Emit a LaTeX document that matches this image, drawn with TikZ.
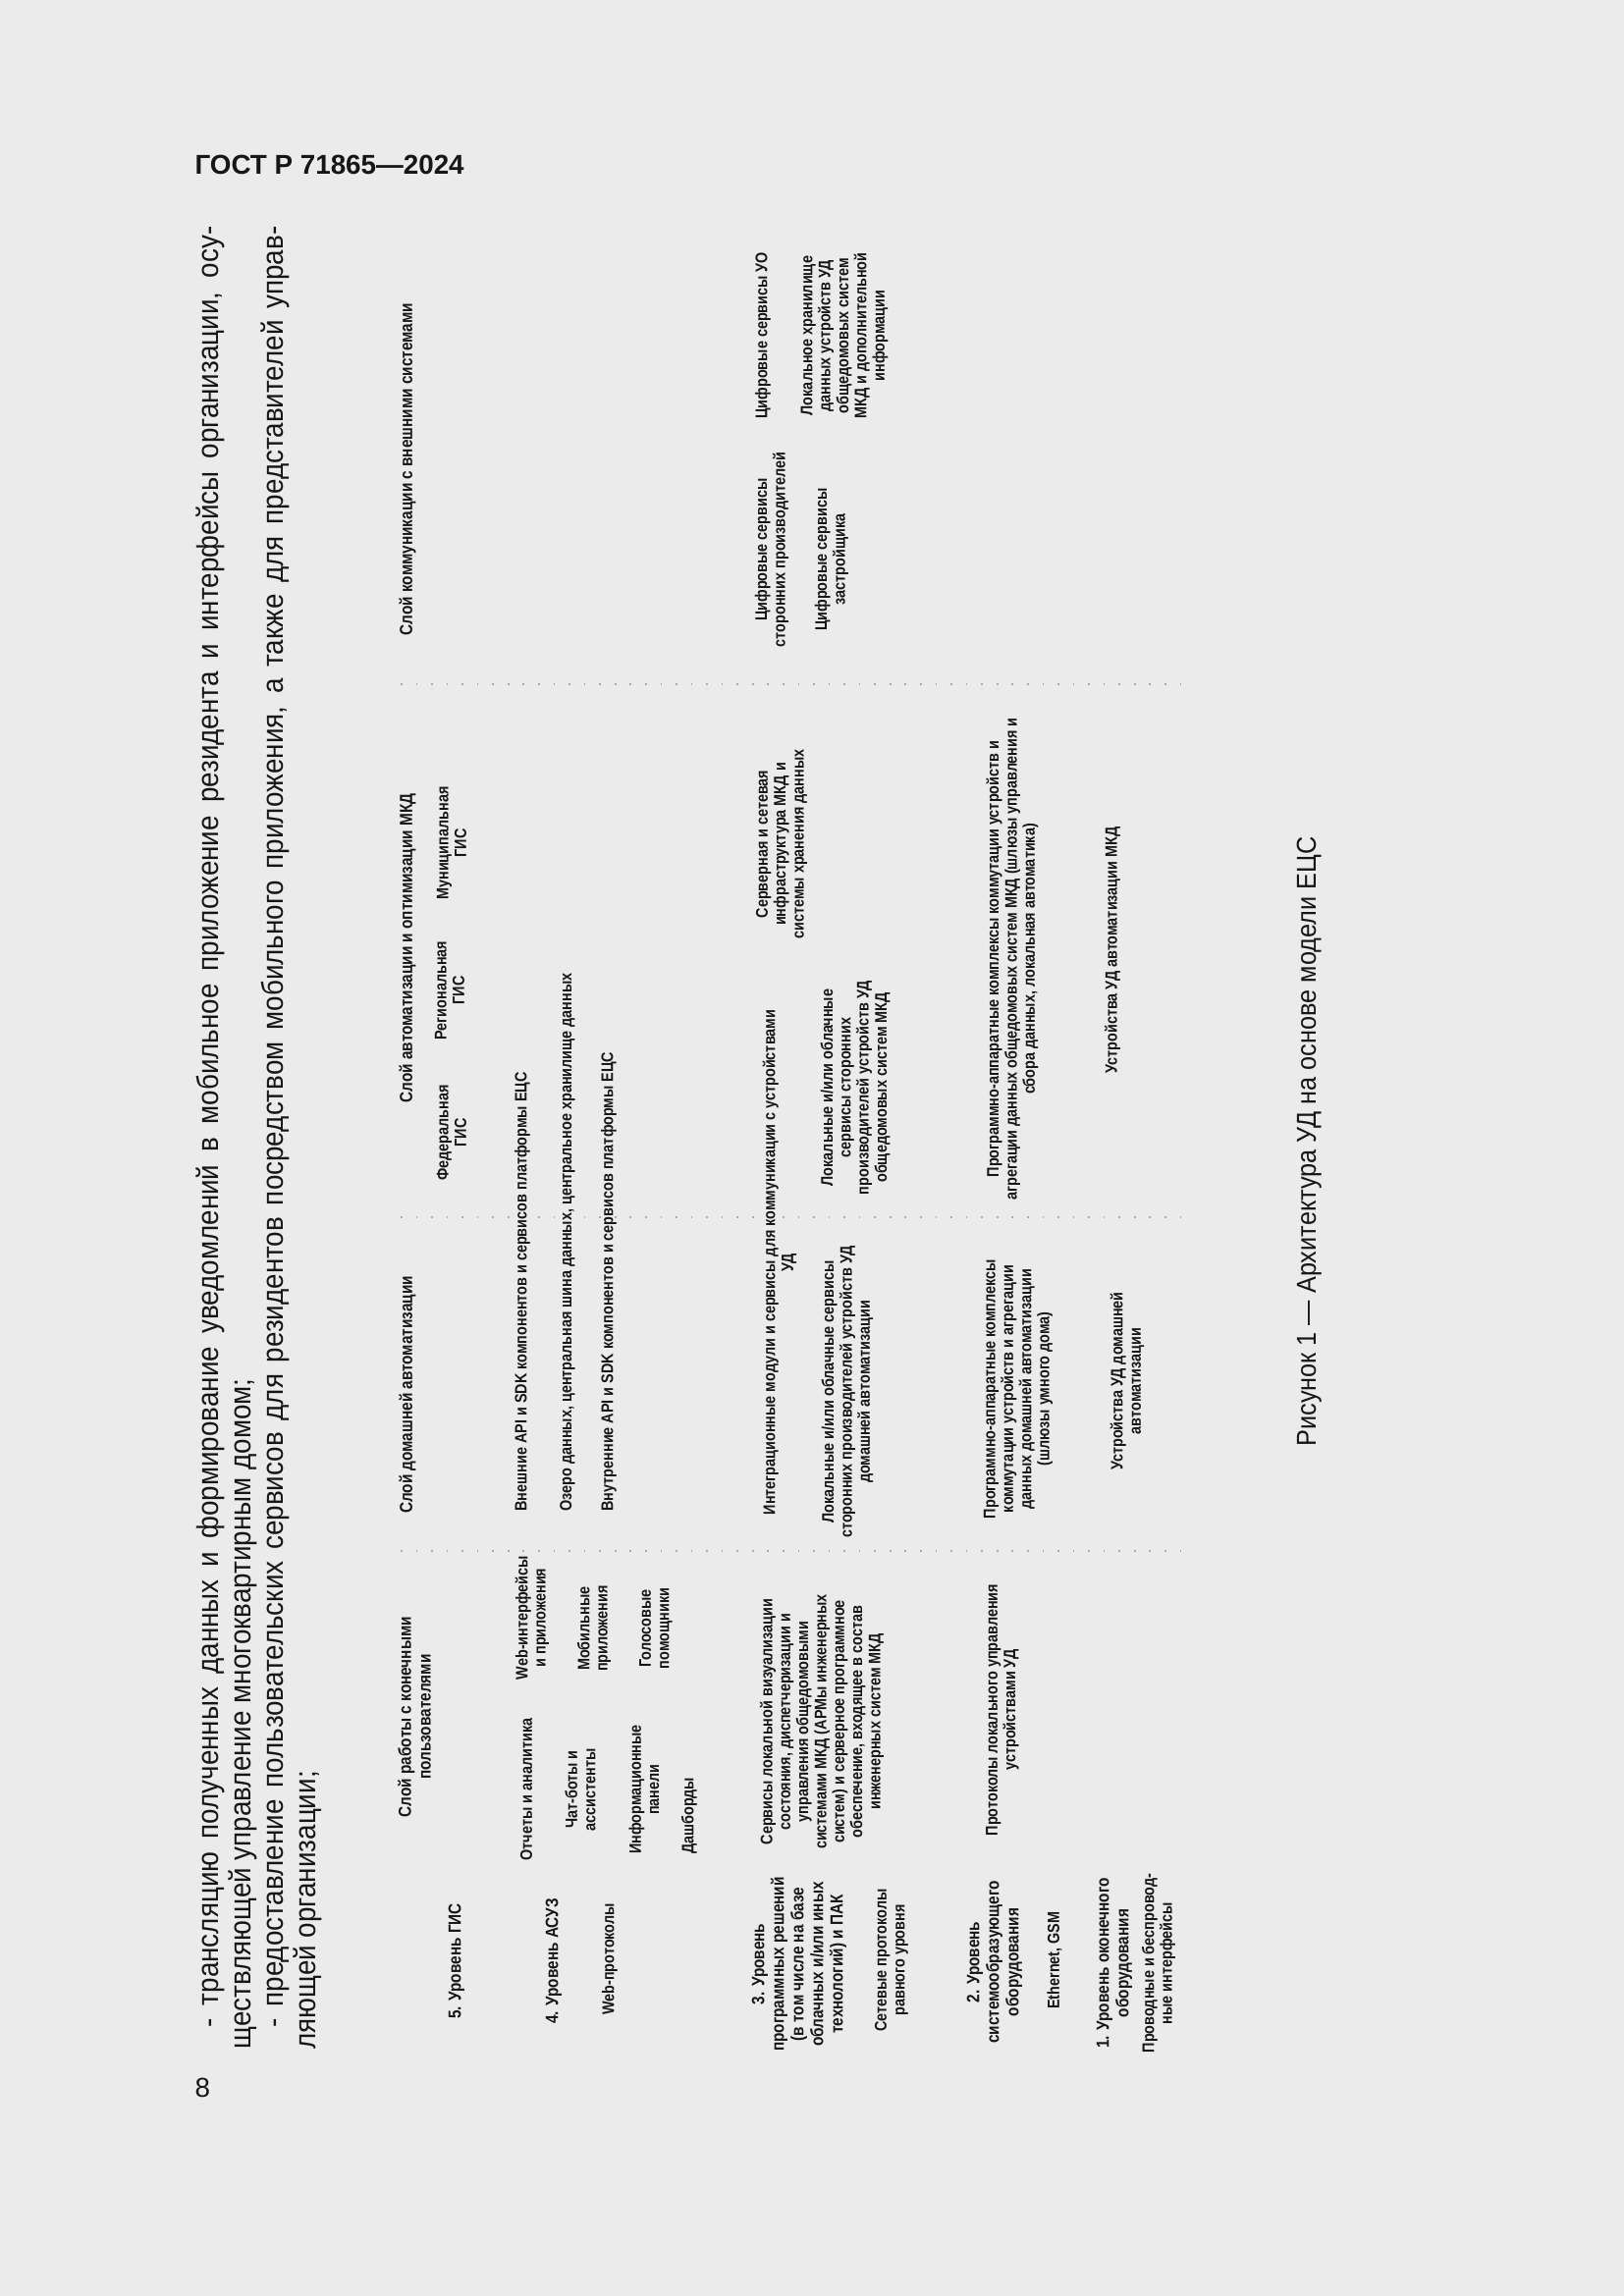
\documentclass[tikz,border=0pt]{standalone}
\usepackage{fontspec}
\setmainfont{Liberation Sans}
\newfontfamily\bodyfont[FakeStretch=0.91]{Liberation Sans}
\newfontfamily\diagfont[FakeStretch=0.85]{Liberation Sans}
\definecolor{pagebg}{RGB}{235,235,235}
\definecolor{ink}{RGB}{22,22,22}
\definecolor{dotgray}{RGB}{170,170,170}
\tikzset{
  lvl/.style={rotate=90, align=center, inner sep=0pt, text=ink,
    font=\diagfont\bfseries\fontsize{6.5}{7.2}\selectfont},
  itm/.style={rotate=90, align=center, inner sep=0pt, text=ink,
    font=\diagfont\bfseries\fontsize{6.1}{6.6}\selectfont},
  bodyline/.style={rotate=90, anchor=base west, inner sep=0pt, text=ink,
    font=\bodyfont\fontsize{11}{13}\selectfont},
  sepline/.style={draw=dotgray, line width=0.6pt, dash pattern=on 0.6pt off 5pt},
}
\begin{document}
\begin{tikzpicture}[x=0.3599pt,y=-0.3599pt]
\fill[pagebg] (0,0) rectangle (1654,2339);
\useasboundingbox (0,0) rectangle (1654,2339);

% header and page number
\node[anchor=base west, inner sep=0pt, text=ink, font=\bfseries\fontsize{10}{12}\selectfont] (hdr) at (198,177) {ГОСТ Р 71865—2024};
\node[anchor=base west, inner sep=0pt, text=ink, font=\fontsize{10}{12}\selectfont] (pg) at (198,2136) {8};

% body text (rotated)
\node[bodyline] (b1) at (222,2066) {\makebox[660.4pt][s]{- трансляцию полученных данных и формирование уведомлений в мобильное приложение резидента и интерфейсы организации, осу-}};
\node[bodyline] (b2) at (255,2088) {ществляющей управление многоквартирным домом;};
\node[bodyline] (b3) at (288,2066) {\makebox[660.4pt][s]{- предоставление пользовательских сервисов для резидентов посредством мобильного приложения, а также для представителей управ-}};
\node[bodyline] (b4) at (321,2088) {ляющей организации;};

% separators
\coordinate (s1a) at (408,697);  \coordinate (s1b) at (1203,697);
\coordinate (s2a) at (408,1240); \coordinate (s2b) at (1203,1240);
\coordinate (s3a) at (408,1580); \coordinate (s3b) at (1203,1580);
\draw[sepline] (s1a) -- (s1b);
\draw[sepline] (s2a) -- (s2b);
\draw[sepline] (s3a) -- (s3b);

% layer titles
\node[lvl] (t1) at (415,478) {Слой коммуникации с внешними системами};
\node[lvl] (t2) at (415,966) {Слой автоматизации и оптимизации МКД};
\node[lvl] (t3) at (415,1421) {Слой домашней автоматизации};
\node[lvl] (t4) at (422,1749) {Слой работы с конечными\\пользователями};

% external systems
\node[itm] (e1) at (777,342) {Цифровые сервисы УО};
\node[itm] (e2) at (786,560) {Цифровые сервисы\\сторонних производителей};
\node[itm] (e3) at (860,342) {Локальное хранилище\\данных устройств УД\\общедомовых систем\\МКД и дополнительной\\информации};
\node[itm] (e4) at (847,570) {Цифровые сервисы\\застройщика};

% MKD automation
\node[itm] (m1) at (460,1154) {Федеральная\\ГИС};
\node[itm] (m2) at (458,1009) {Региональная\\ГИС};
\node[itm] (m3) at (460,859) {Муниципальная\\ГИС};
\node[itm] (m4) at (796,860) {Серверная и сетевая\\инфраструктура МКД и\\системы хранения данных};
\node[itm] (m5) at (871,1108) {Локальные и/или облачные\\сервисы сторонних\\производителей устройств УД\\общедомовых систем МКД};
\node[itm] (m6) at (1031,977) {Программно-аппаратные комплексы коммутации устройств и\\агрегации данных общедомовых систем МКД (шлюзы управления и\\сбора данных, локальная автоматика)};
\node[itm] (m7) at (1133,968) {Устройства УД автоматизации МКД};
\node[itm] (int) at (794,1286) {Интеграционные модули и сервисы для коммуникации с устройствами\\УД};

% home automation
\node[itm, anchor=west] (h1) at (532,1540) {Внешние API и SDK компонентов и сервисов платформы ЕЦС};
\node[itm, anchor=west] (h2) at (578,1540) {Озеро данных, центральная шина данных, центральное хранилище данных};
\node[itm, anchor=west] (h3) at (620,1540) {Внутренние API и SDK компонентов и сервисов платформы ЕЦС};
\node[itm] (h4) at (863,1418) {Локальные и/или облачные сервисы\\сторонних производителей устройств УД\\домашней автоматизации};
\node[itm] (h5) at (1037,1415) {Программно-аппаратные комплексы\\коммутации устройств и агрегации\\данных домашней автоматизации\\(шлюзы умного дома)};
\node[itm] (h6) at (1148,1407) {Устройства УД домашней\\автоматизации};

% end users
\node[itm] (u1) at (536,1823) {Отчеты и аналитика};
\node[itm] (u2) at (591,1823) {Чат-боты и\\ассистенты};
\node[itm] (u3) at (656,1823) {Информационные\\панели};
\node[itm] (u4) at (702,1850) {Дашборды};
\node[itm] (u5) at (542,1648) {Web-интерфейсы\\и приложения};
\node[itm] (u6) at (605,1659) {Мобильные\\приложения};
\node[itm] (u7) at (668,1659) {Голосовые\\помощники};
\node[itm] (u8) at (837,1754) {Сервисы локальной визуализации\\состояния, диспетчеризации и\\управления общедомовыми\\системами МКД (АРМы инженерных\\систем) и серверное программное\\обеспечение, входящее в состав\\инженерных систем МКД};
\node[itm] (u9) at (1021,1742) {Протоколы локального управления\\устройствами УД};

% levels
\node[lvl] (l5) at (465,1998) {5. Уровень ГИС};
\node[lvl] (l4) at (564,1998) {4. Уровень АСУЗ};
\node[itm] (p4) at (621,1996) {Web-протоколы};
\node[lvl] (l3) at (814,2001) {3. Уровень\\программных решений\\(в том числе на базе\\облачных и/или иных\\технологий) и ПАК};
\node[itm] (p3) at (908,1997) {Сетевые протоколы\\равного уровня};
\node[lvl] (l2) at (1013,1999) {2. Уровень\\системообразующего\\оборудования};
\node[itm] (p2) at (1074,1997) {Ethernet, GSM};
\node[lvl] (l1) at (1135,2000) {1. Уровень оконечного\\оборудования};
\node[itm] (p1) at (1180,2000) {Проводные и беспровод-\\ные интерфейсы};

% caption
\node[rotate=90, anchor=base, inner sep=0pt, text=ink, font=\bodyfont\fontsize{10}{12}\selectfont] (cap) at (1340,1163) {Рисунок 1 — Архитектура УД на основе модели ЕЦС};
\end{tikzpicture}
\end{document}
